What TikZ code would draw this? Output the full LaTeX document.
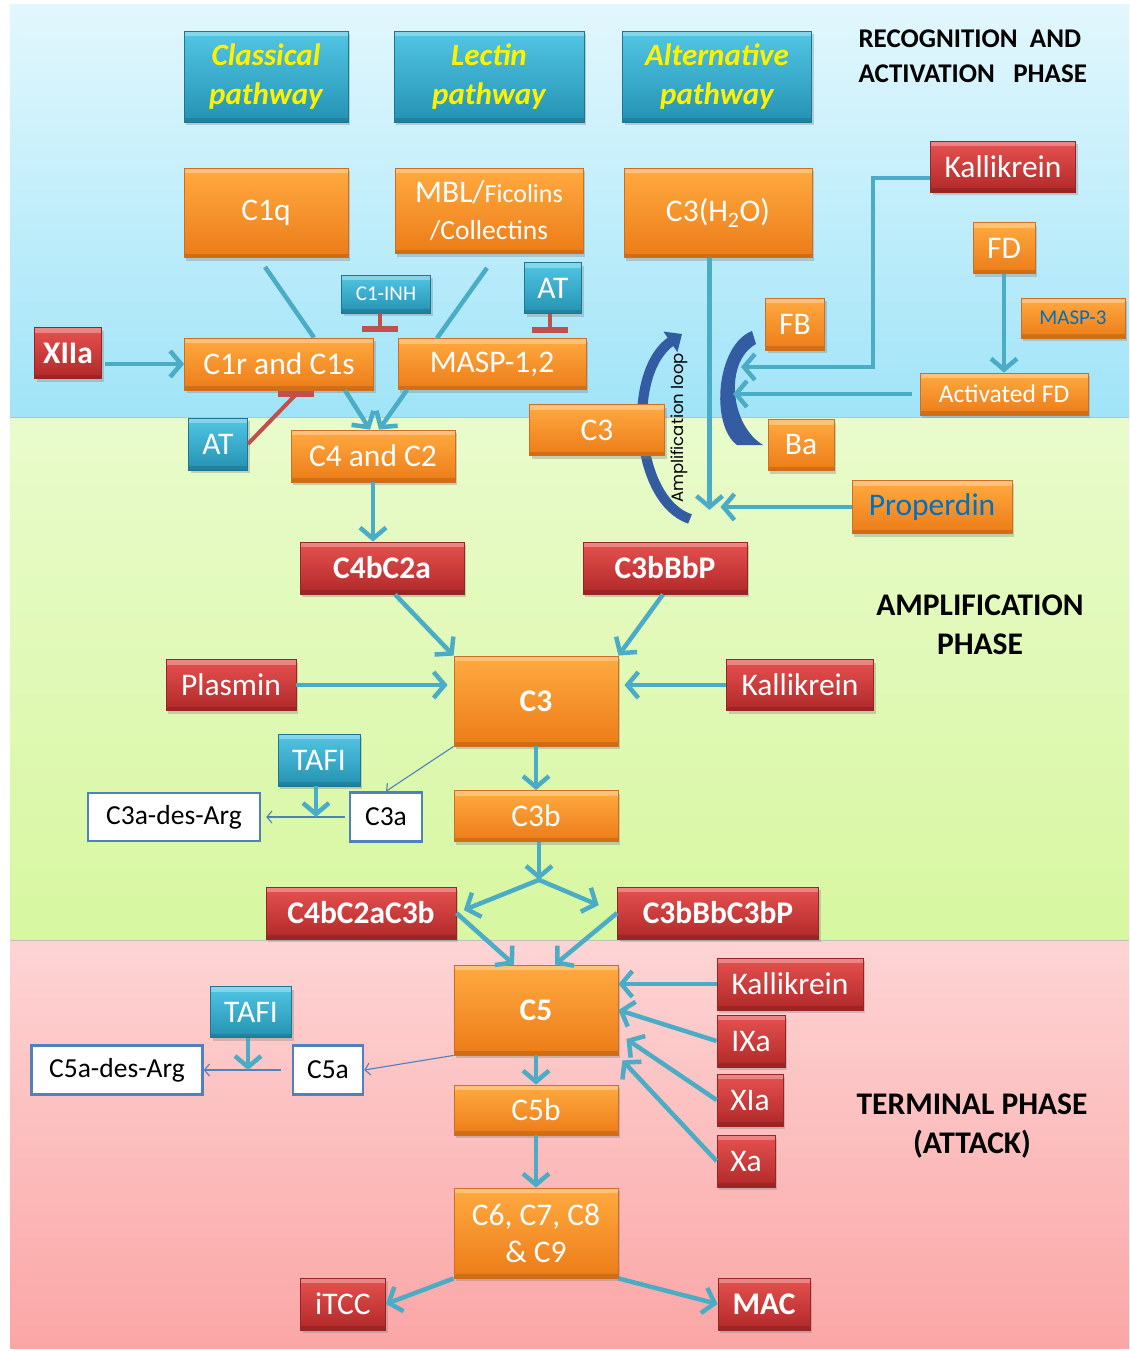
\documentclass[tikz,border=0pt]{standalone}
\usepackage{fontspec}
\setmainfont{Carlito}
\newfontfamily\loopfont{Poppins}
\usetikzlibrary{positioning, arrows.meta, shadows}

\definecolor{bluetop}{RGB}{226,247,253}
\definecolor{bluebot}{RGB}{160,228,248}
\definecolor{greentop}{RGB}{233,251,204}
\definecolor{greenbot}{RGB}{215,247,160}
\definecolor{pinktop}{RGB}{253,212,212}
\definecolor{pinkbot}{RGB}{251,166,166}
\definecolor{orangetop}{RGB}{255,170,64}
\definecolor{orangebot}{RGB}{236,124,24}
\definecolor{orangeline}{RGB}{205,110,35}
\definecolor{redtop}{RGB}{230,82,80}
\definecolor{redbot}{RGB}{176,40,40}
\definecolor{redline}{RGB}{150,38,38}
\definecolor{tealtop}{RGB}{82,198,228}
\definecolor{tealbot}{RGB}{36,146,178}
\definecolor{tealline}{RGB}{28,118,148}
\definecolor{linkcol}{RGB}{75,172,198}
\definecolor{thincol}{RGB}{79,129,189}
\definecolor{inhcol}{RGB}{192,80,77}
\definecolor{loopcol}{RGB}{52,92,162}
\definecolor{protblue}{RGB}{0,112,192}

\tikzset{
box/.style={rectangle, inner sep=0pt, align=center, line width=0.8pt,
  drop shadow={shadow xshift=2pt, shadow yshift=-3pt, opacity=0.35},
  path picture={% bevel: light top edge, dark bottom edge
    \fill[white, opacity=0.3] (path picture bounding box.north west) rectangle ([yshift=-5pt]path picture bounding box.north east);
    \fill[black, opacity=0.12] ([yshift=4pt]path picture bounding box.south west) rectangle (path picture bounding box.south east);}},
orangebox/.style={box, draw=orangeline, top color=orangetop, bottom color=orangebot, text=white},
redbox/.style={box, draw=redline, top color=redtop, bottom color=redbot, text=white},
tealbox/.style={box, draw=tealline, top color=tealtop, bottom color=tealbot, text=white},
whitebox/.style={rectangle, inner sep=0pt, draw=thincol, line width=2.5pt, fill=white, text=black},
wh/.style 2 args={minimum width=#1pt, minimum height=#2pt}, % size in pixels of the reference
txtbig/.style={font=\fontsize{31.5}{37}\selectfont},
bigbf/.style={font=\bfseries\fontsize{31.5}{37}\selectfont},
txtmid/.style={font=\fontsize{27.5}{32}\selectfont},
txtsmall/.style={font=\fontsize{21}{25}\selectfont},
header/.style={tealbox, text=yellow, font=\bfseries\itshape\fontsize{31}{39}\selectfont},
phase/.style={text=black, font=\bfseries\fontsize{31.5}{39}\selectfont, align=center},
link/.style={draw=linkcol, line width=4.5pt, -{Straight Barb[length=11pt, width=26pt]}}, % thick arrows
plainlink/.style={draw=linkcol, line width=4.5pt},
thinlink/.style={draw=thincol, line width=1.1pt, -{Straight Barb[length=5pt, width=12pt]}},
inhibit/.style={draw=inhcol, line width=4pt},
inhbar/.style={draw=inhcol, line width=6pt},
}

\begin{document}
\begin{tikzpicture}[x=1pt, y=-1pt]
\useasboundingbox (0,0) rectangle (1129,1351);

% phase bands
\fill[white] (0,0) rectangle (1129,1351);
\shade[top color=bluetop, bottom color=bluebot] (10,5) rectangle (1129,417);
\shade[top color=greentop, bottom color=greenbot] (10,417) rectangle (1129,940);
\shade[top color=pinktop, bottom color=pinkbot] (10,940) rectangle (1129,1348);
\draw[black!25, line width=1pt] (10,417) -- (1129,417) (10,940) -- (1129,940);

% amplification loop and FB/Ba crescent
\draw[loopcol, line width=10pt, -{Triangle[length=14pt, width=24pt]}]
  (690,519) .. controls (634,500) and (626,372) .. (682,334);
\fill[loopcol] (752,331) .. controls (716,345) and (710,425) .. (737,445)
  -- (763,445) .. controls (730,425) and (724,362) .. (756,344) -- cycle;
\node[rotate=90, font=\loopfont\fontsize{16.5}{18}\selectfont] (looplabel) at (679,428) {Amplification loop};

% pathways
\node[header, wh={164}{91}] (classical) at (266,77) {Classical\\pathway};
\node[header, wh={190}{91}] (lectin) at (489,77) {Lectin\\pathway};
\node[header, wh={189}{91}] (alternative) at (717,77) {Alternative\\pathway};

\node[phase, align=left, anchor=west, font=\bfseries\fontsize{27}{35}\selectfont] (recog) at (855,56) {RECOGNITION\ \ AND\\ACTIVATION\ \ \ PHASE};
\node[phase] (ampl) at (980,625) {AMPLIFICATION\\PHASE};
\node[phase] (term) at (972,1126) {TERMINAL PHASE\\(ATTACK)};

% recognition and activation
\node[orangebox, txtbig, wh={164}{89}] (c1q) at (266,213) {C1q};
\node[orangebox, txtbig, wh={188}{85}] (mbl) at (489,211) {MBL/{\fontsize{26}{30}\selectfont Ficolins}\\{\fontsize{27.5}{30}\selectfont /Collectins}};
\node[orangebox, txtbig, wh={188}{89}] (c3h2o) at (718,213) {C3(H\textsubscript{2}O)};
\node[redbox, txtbig, wh={145}{51}] (kallA) at (1003,167) {Kallikrein};
\node[orangebox, txtbig, wh={62}{51}] (fd) at (1004,248) {FD};
\node[orangebox, txtsmall, text=protblue, wh={104}{40}] (masp3) at (1073,318) {MASP-3};
\node[orangebox, txtbig, wh={59}{52}] (fb) at (795,324) {FB};
\node[orangebox, font=\fontsize{25.5}{30}\selectfont, wh={168}{42}] (actfd) at (1004,394) {Activated FD};
\node[orangebox, txtbig, wh={66}{51}] (ba) at (801,445) {Ba};
\node[orangebox, txtbig, wh={135}{51}] (c3s) at (597,430) {C3};
\node[orangebox, txtbig, text=protblue, wh={160}{53}] (prop) at (932,507) {Properdin};
\node[tealbox, txtsmall, wh={89}{38}] (c1inh) at (386,294) {C1-INH};
\node[tealbox, txtbig, wh={57}{51}] (atA) at (553,288) {AT};
\node[redbox, bigbf, wh={67}{51}] (xiia) at (68,353) {XIIa};
\node[orangebox, txtbig, wh={189}{52}] (c1r) at (279,364) {C1r and C1s};
\node[orangebox, txtbig, wh={188}{51}] (masp) at (492,364) {MASP-1,2};
\node[tealbox, txtbig, wh={59}{52}] (atB) at (218,444) {AT};
\node[orangebox, txtbig, wh={164}{52}] (c4c2) at (373,456) {C4 and C2};

% amplification
\node[redbox, bigbf, wh={164}{52}] (c4bc2a) at (382,568) {C4bC2a};
\node[redbox, bigbf, wh={164}{52}] (c3bbbp) at (665,568) {C3bBbP};
\node[redbox, txtbig, wh={130}{51}] (plasmin) at (231,685) {Plasmin};
\node[orangebox, bigbf, wh={164}{90}] (c3) at (536,701) {C3};
\node[redbox, txtbig, wh={147}{51}] (kallB) at (800,685) {Kallikrein};
\node[tealbox, txtbig, wh={82}{52}] (tafiA) at (319,760) {TAFI};
\node[whitebox, txtmid, wh={172}{48}] (c3ades) at (174,817) {C3a-des-Arg};
\node[whitebox, txtmid, wh={72}{49}] (c3a) at (386,817) {C3a};
\node[orangebox, txtbig, wh={164}{51}] (c3b) at (536,816) {C3b};
\node[redbox, bigbf, wh={190}{52}] (c4bc2ac3b) at (361,913) {C4bC2aC3b};
\node[redbox, bigbf, wh={201}{52}] (c3bbbc3bp) at (718,913) {C3bBbC3bP};

% terminal
\node[orangebox, bigbf, wh={164}{90}] (c5) at (536,1010) {C5};
\node[redbox, txtbig, wh={146}{52}] (kallC) at (790,984) {Kallikrein};
\node[redbox, txtbig, wh={68}{52}] (ixa) at (751,1041) {IXa};
\node[redbox, txtbig, wh={66}{52}] (xia) at (750,1100) {XIa};
\node[redbox, txtbig, wh={58}{52}] (xa) at (746,1161) {Xa};
\node[tealbox, txtbig, wh={81}{51}] (tafiB) at (251,1012) {TAFI};
\node[whitebox, txtmid, wh={171}{49}] (c5ades) at (117,1070) {C5a-des-Arg};
\node[whitebox, txtmid, wh={70}{49}] (c5a) at (328,1070) {C5a};
\node[orangebox, txtbig, wh={164}{50}] (c5b) at (536,1110) {C5b};
\node[orangebox, txtbig, wh={164}{90}] (c6) at (536,1233) {C6, C7, C8\\\& C9};
\node[redbox, txtbig, wh={85}{52}] (itcc) at (343,1304) {iTCC};
\node[redbox, bigbf, wh={92}{52}] (mac) at (764,1304) {MAC};

\coordinate (fbtip) at (741,367);
\coordinate (fbbay) at (733,395);

% connectors
\draw[link, shorten <=3pt] (xiia.east |- c1r.west) -- (c1r.west);
\draw[plainlink] ([shift={(-1,9)}]c1q.south) -- ([xshift=35pt]c1r.north);
\draw[plainlink] ([shift={(-2,14)}]mbl.south) -- ([xshift=-55pt]masp.north);
\draw[link] ([xshift=66pt]c1r.south) -- ([xshift=-3pt]c4c2.north);
\draw[link] ([xshift=-85pt]masp.south) -- ([xshift=6pt]c4c2.north);
\draw[inhibit] ([xshift=-6pt]c1inh.south) -- ++(0,16) coordinate (c1inhbar);
\draw[inhbar] ([xshift=-18pt]c1inhbar) -- ([xshift=18pt]c1inhbar);
\draw[inhibit] ([xshift=-3pt]atA.south) -- ++(0,16) coordinate (atAbar);
\draw[inhbar] ([xshift=-18pt]atAbar) -- ([xshift=18pt]atAbar);
\draw[inhibit] (atB.east) -- ([shift={(17,4)}]c1r.south) coordinate (atBbar);
\draw[inhbar] ([xshift=-18pt]atBbar) -- ([xshift=18pt]atBbar);

\draw[link] ([xshift=-8.5pt]c3h2o.south) -- ++(0,252) coordinate (c3conv);
\draw[link, shorten >=11pt] (prop.west) -- (prop.west -| c3conv);
\draw[link] ([yshift=-11pt]kallA.west) -- ++(-57,0) |- (fbtip);
\draw[link, shorten <=8pt] (actfd.west) -- (actfd.west -| fbbay);
\draw[link] (fd.south) -- (actfd.north);

\draw[link] (c4c2.south) -- (c4c2.south |- c4bc2a.north);
\draw[link] ([xshift=13pt]c4bc2a.south) -- (c3.north west);
\draw[link] ([xshift=-2pt]c3bbbp.south) -- (c3.north east);
\draw[link, shorten >=6pt] (plasmin.east) -- (plasmin.east -| c3.west);
\draw[link, shorten >=6pt] (kallB.west) -- (kallB.west -| c3.east);
\draw[link] (c3.south) -- (c3b.north);
\draw[thinlink] (c3.south west) -- (c3a.north);
\draw[thinlink, shorten <=4pt, shorten >=5pt] (c3a.west) -- (c3ades.east);
\draw[link] ([xshift=-3pt]tafiA.south) -- ([xshift=-3pt]tafiA.south |- c3a.west);
\draw[link] ([xshift=3pt]c3b.south) -- ++(0,38) coordinate (c3bsplit);
\draw[link, shorten >=8pt] (c3bsplit) -- (c4bc2ac3b.east);
\draw[link, shorten >=20pt] (c3bsplit) -- (c3bbbc3bp.west);

\draw[link] (c4bc2ac3b.east) -- ([xshift=-22pt]c5.north);
\draw[link] (c3bbbc3bp.west) -- ([xshift=19pt]c5.north);
\draw[link] (kallC.west) -- (kallC.west -| c5.east);
\draw[link] (ixa.west) -- (c5.east);
\draw[link] (xia.west) -- ([shift={(8,29)}]c5.east);
\draw[link] (xa.west) -- ([shift={(4,5)}]c5.south east);
\draw[link] (c5.south) -- (c5b.north);
\draw[link] (c5b.south) -- (c6.north);
\draw[thinlink] (c5.south west) -- (c5a.east);
\draw[thinlink, shorten <=11pt] (c5a.west) -- (c5ades.east);
\draw[link] ([xshift=-3pt]tafiB.south) -- ([xshift=-3pt]tafiB.south |- c5a.west);
\draw[link] (c6.south west) -- (itcc.east);
\draw[link] (c6.south east) -- (mac.west);
\end{tikzpicture}
\end{document}
